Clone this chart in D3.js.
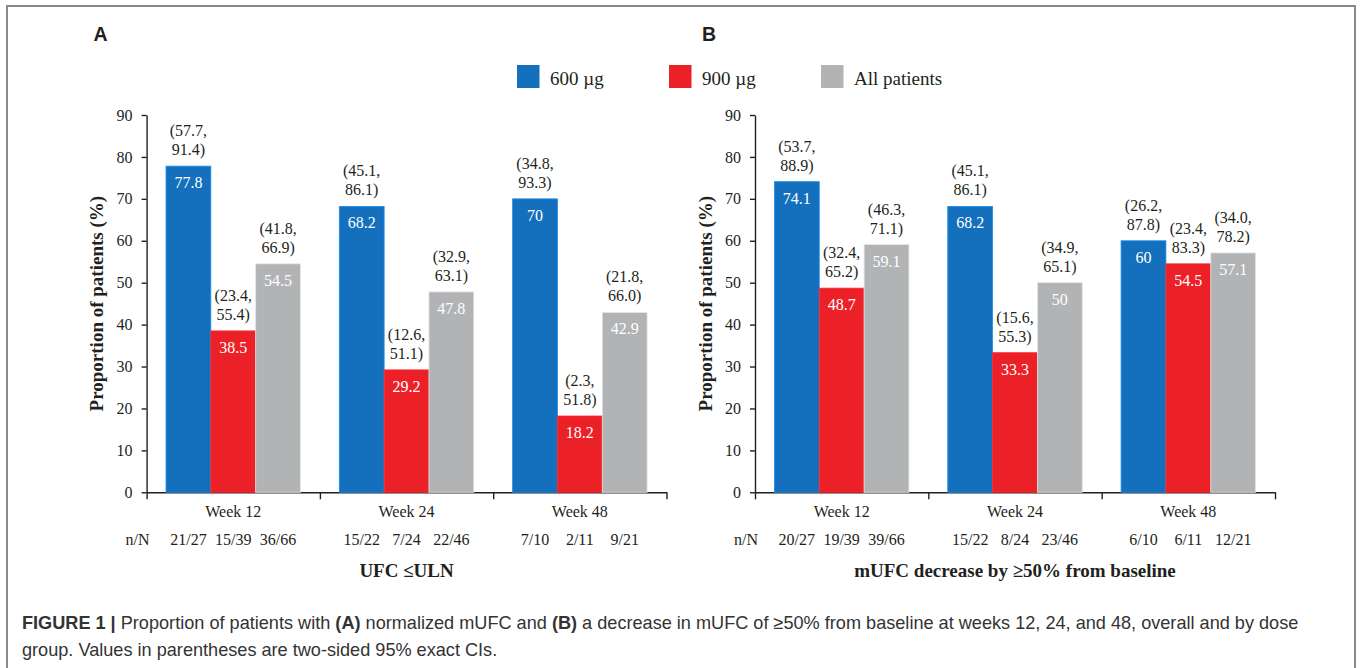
<!DOCTYPE html>
<html>
<head>
  <meta charset="utf-8">
  <script src="https://d3js.org/d3.v7.min.js"></script>
  <style>
    body { margin: 0; background: #fff; }
    svg text { fill: #231f20; }
    .serif { font-family: "Liberation Serif", "Times New Roman", serif; }
    .sans { font-family: "Liberation Sans", Arial, sans-serif; }
    .axis path, .axis line { stroke: #231f20; stroke-width: 1.4; }
    .axis text { font-family: "Liberation Serif", serif; font-size: 16px; fill: #231f20; }
  </style>
</head>
<body>
<script>
  "use strict";

  // shared categories
  var weeks = ["Week 12", "Week 24", "Week 48"];
  var groups = ["600 µg", "900 µg", "All patients"];
  var groupColors = ["#1470bc", "#ec2127", "#b2b3b5"];
  var yTicks = [0, 10, 20, 30, 40, 50, 60, 70, 80, 90];

  // panel A: UFC <= ULN  (rows = weeks, cols = groups)
  var ufcValues = [[77.8, 38.5, 54.5], [68.2, 29.2, 47.8], [70, 18.2, 42.9]];
  var ufcLow    = [[57.7, 23.4, 41.8], [45.1, 12.6, 32.9], [34.8, 2.3, 21.8]];
  var ufcHigh   = [[91.4, 55.4, 66.9], [86.1, 51.1, 63.1], [93.3, 51.8, 66.0]];
  var ufcN      = [["21/27", "15/39", "36/66"], ["15/22", "7/24", "22/46"], ["7/10", "2/11", "9/21"]];

  // panel B: mUFC decrease by >=50%
  var decValues = [[74.1, 48.7, 59.1], [68.2, 33.3, 50], [60, 54.5, 57.1]];
  var decLow    = [[53.7, 32.4, 46.3], [45.1, 15.6, 34.9], [26.2, 23.4, 34.0]];
  var decHigh   = [[88.9, 65.2, 71.1], [86.1, 55.3, 65.1], [87.8, 83.3, 78.2]];
  var decN      = [["20/27", "19/39", "39/66"], ["15/22", "8/24", "23/46"], ["6/10", "6/11", "12/21"]];

  var W = 1360, H = 668;
  var svg = d3.select("body").append("svg")
    .attr("width", W).attr("height", H);

  // outer frame
  svg.append("rect")
    .attr("x", 7).attr("y", 6)
    .attr("width", 1348).attr("height", 700)
    .attr("fill", "none")
    .attr("stroke", "#8a8a8a")
    .attr("stroke-width", 2);

  var y = d3.scaleLinear().domain([0, 90]).range([492.3, 115]);

  function drawPanel(letter, x0, x1, values, lo, hi, nn, title) {
    var g = svg.append("g");

    var x = d3.scaleBand().domain(weeks).range([x0, x1])
      .paddingInner(0.224).paddingOuter(0.112);
    var xs = d3.scaleBand().domain(groups).range([0, x.bandwidth()]);
    var xEdge = d3.scaleLinear().domain([0, weeks.length]).range([x0, x1]);

    // panel letter
    g.append("text").attr("class", "sans")
      .attr("x", x0 - 53).attr("y", 41)
      .style("font-size", "19.5px").style("font-weight", "bold")
      .text(letter);

    // y axis
    g.append("g").attr("class", "axis")
      .attr("transform", "translate(" + x0 + ",0)")
      .call(d3.axisLeft(y).tickValues(yTicks).tickSize(5).tickSizeOuter(0).tickPadding(9));

    // x axis with ticks at category boundaries
    g.append("g").attr("class", "axis")
      .attr("transform", "translate(0," + y(0) + ")")
      .call(d3.axisBottom(xEdge).tickValues(d3.range(weeks.length + 1))
        .tickFormat("").tickSize(7).tickSizeOuter(0));

    // y title, centred on the axis
    var yMid = (y(0) + y(90)) / 2;
    g.append("text").attr("class", "serif")
      .attr("transform", "translate(" + (x0 - 43.5) + "," + yMid + ") rotate(-90)")
      .attr("text-anchor", "middle")
      .style("font-size", "19px").style("font-weight", "bold")
      .text("Proportion of patients (%)");

    weeks.forEach(function (wk, i) {
      var wg = g.append("g").attr("transform", "translate(" + x(wk) + ",0)");
      groups.forEach(function (gr, j) {
        var v = values[i][j];
        var bx = xs(gr), bw = xs.bandwidth(), cx = bx + bw / 2;
        wg.append("rect")
          .attr("x", bx).attr("y", y(v))
          .attr("width", bw).attr("height", y(0) - y(v))
          .attr("fill", groupColors[j])
          .attr("stroke", d3.color(groupColors[j]).brighter(0.7))
          .attr("stroke-width", 0.8);
        wg.append("text").attr("class", "serif")
          .attr("x", cx).attr("y", y(v) + 22)
          .attr("text-anchor", "middle")
          .style("font-size", "16px").style("fill", "#fff")
          .text(String(v));
        wg.append("text").attr("class", "serif")
          .attr("x", cx).attr("y", y(v) - 30)
          .attr("text-anchor", "middle").style("font-size", "16px")
          .text("(" + lo[i][j].toFixed(1) + ",");
        wg.append("text").attr("class", "serif")
          .attr("x", cx).attr("y", y(v) - 11)
          .attr("text-anchor", "middle").style("font-size", "16px")
          .text(hi[i][j].toFixed(1) + ")");
        wg.append("text").attr("class", "serif")
          .attr("x", cx).attr("y", 545)
          .attr("text-anchor", "middle").style("font-size", "16px")
          .text(nn[i][j]);
      });
      g.append("text").attr("class", "serif")
        .attr("x", x(wk) + x.bandwidth() / 2).attr("y", 517)
        .attr("text-anchor", "middle").style("font-size", "16px")
        .text(wk);
    });

    g.append("text").attr("class", "serif")
      .attr("x", x0 - 9).attr("y", 545)
      .attr("text-anchor", "middle").style("font-size", "16px")
      .text("n/N");

    g.append("text").attr("class", "serif")
      .attr("x", (x0 + x1) / 2).attr("y", 577)
      .attr("text-anchor", "middle")
      .style("font-size", "19px").style("font-weight", "bold")
      .text(title);
  }

  drawPanel("A", 146.6, 666.5, ufcValues, ufcLow, ufcHigh, ufcN, "UFC ≤ULN");
  drawPanel("B", 755, 1275, decValues, decLow, decHigh, decN, "mUFC decrease by ≥50% from baseline");

  // legend
  var legendX = [517, 669, 821];
  groups.forEach(function (gr, j) {
    svg.append("rect")
      .attr("x", legendX[j]).attr("y", 65)
      .attr("width", 22.5).attr("height", 23)
      .attr("fill", groupColors[j]);
    svg.append("text").attr("class", "serif")
      .attr("x", legendX[j] + 33).attr("y", 85)
      .style("font-size", "19px")
      .text(gr);
  });

  // caption
  var cap1 = svg.append("text").attr("class", "sans")
    .attr("x", 22).attr("y", 629).style("font-size", "18px").style("fill", "#333");
  cap1.append("tspan").style("font-weight", "bold").text("FIGURE 1 | ");
  cap1.append("tspan").text("Proportion of patients with ");
  cap1.append("tspan").style("font-weight", "bold").text("(A)");
  cap1.append("tspan").text(" normalized mUFC and ");
  cap1.append("tspan").style("font-weight", "bold").text("(B)");
  cap1.append("tspan").text(" a decrease in mUFC of ≥50% from baseline at weeks 12, 24, and 48, overall and by dose");

  var cap2 = svg.append("text").attr("class", "sans")
    .attr("x", 22).attr("y", 656).style("font-size", "18px").style("fill", "#333")
    .text("group. Values in parentheses are two-sided 95% exact CIs.");

  // fit caption widths to the figure
  var w1 = cap1.node().getComputedTextLength();
  var fs = 18 * 1278 / w1;
  cap1.style("font-size", fs + "px");
  cap2.style("font-size", fs + "px");
</script>
</body>
</html>
